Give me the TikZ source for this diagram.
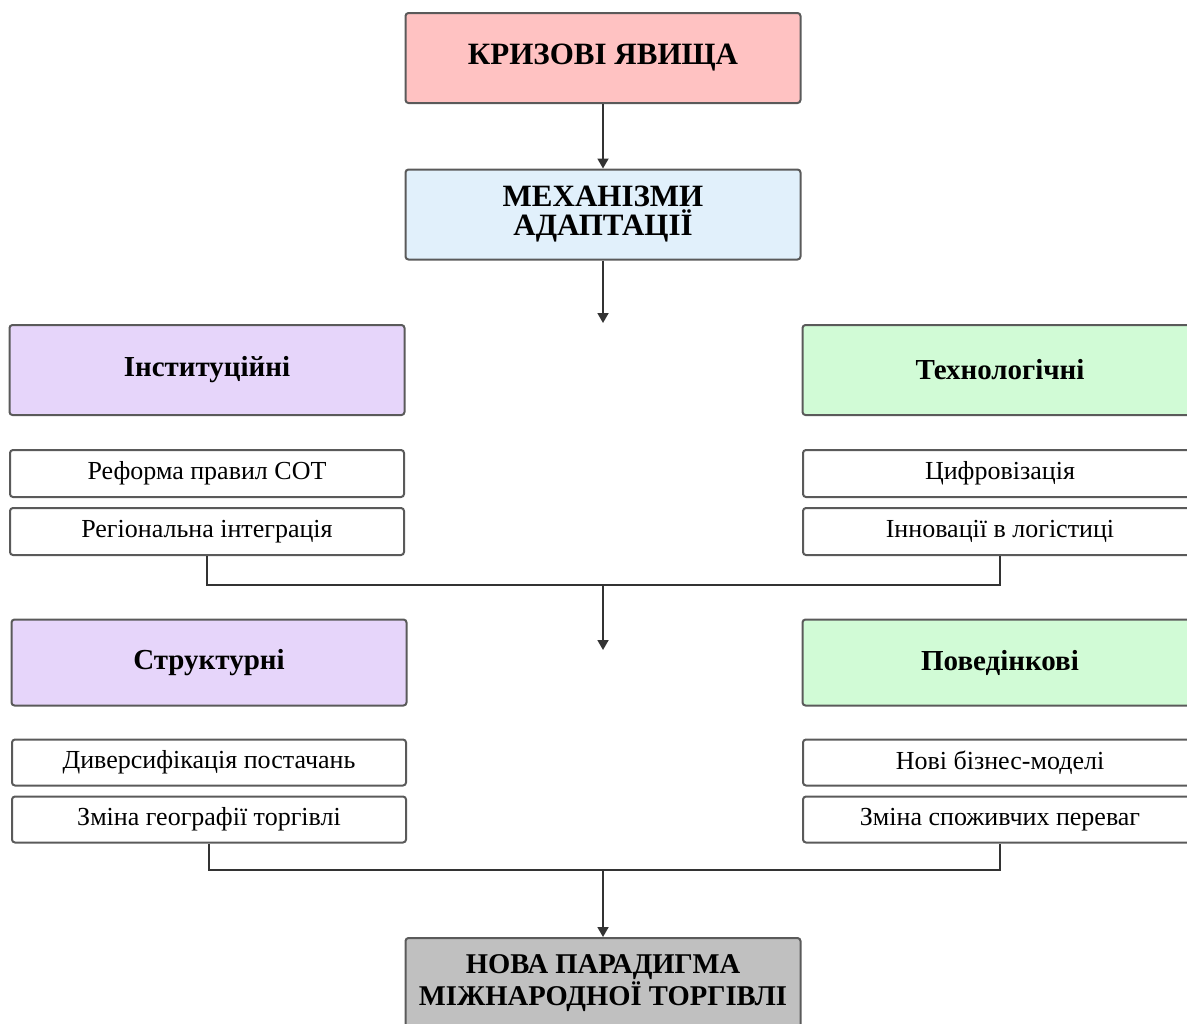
\documentclass[tikz,border=0pt]{standalone}
\usepackage{fontspec}
\setmainfont{Liberation Serif}
\usepackage{tikz}
\usetikzlibrary{arrows.meta,positioning}
\usepackage{xcolor}
\definecolor{crisisred}{HTML}{FFC2C2}
\definecolor{mechblue}{HTML}{E1F0FB}
\definecolor{lilac}{HTML}{E6D5FA}
\definecolor{mint}{HTML}{D1FBD6}
\definecolor{paragray}{HTML}{C0C0C0}
\definecolor{edgegray}{HTML}{5A5A5A}
\definecolor{linegray}{HTML}{333333}

\begin{document}
\begin{tikzpicture}[x=0.5pt,y=-0.5pt]
	\path[use as bounding box] (0,0) rectangle (1187,1023);
	\clip (0,0) rectangle (1187,1023);
	\begin{scope}[every node/.style={rectangle,draw=edgegray,line width=1pt,rounded corners=1.5pt,align=center},
		mainbox/.style={minimum width=197.5pt,minimum height=45pt,inner sep=2pt,font=\fontsize{15.5}{14.5}\selectfont\bfseries},
		groupbox/.style={minimum width=197.5pt,minimum height=45pt,font=\fontsize{14.5}{17}\selectfont\bfseries},
		itembox/.style={minimum width=197pt,minimum height=23.5pt,font=\fontsize{13}{15}\selectfont}]
		\node[mainbox,fill=crisisred] (crisis) at (603,58) {КРИЗОВІ ЯВИЩА};
		\node[mainbox,fill=mechblue] (mech) at (603,214.5) {МЕХАНІЗМИ\\АДАПТАЦІЇ};
		\node[groupbox,fill=lilac] (inst) at (207,370) {Інституційні};
		\node[groupbox,fill=mint] (tech) at (1000,370) {Технологічні};
		\node[itembox,below =16.5pt of inst] (wto) {Реформа правил СОТ};
		\node[itembox,below =4.5pt of wto] (region) {Регіональна інтеграція};
		\node[itembox,below =16.5pt of tech] (digit) {Цифровізація};
		\node[itembox,below =4.5pt of digit] (logist) {Інновації в логістиці};
		\node[groupbox,minimum height=43pt,fill=lilac] (struct) at (209,662.5) {Структурні};
		\node[groupbox,minimum height=43pt,fill=mint] (behav) at (1000,662.5) {Поведінкові};
		\node[itembox,minimum height=23pt,below =16pt of struct] (supply) {Диверсифікація постачань};
		\node[itembox,minimum height=23pt,below =4.5pt of supply] (geo) {Зміна географії торгівлі};
		\node[itembox,minimum height=23pt,below =16pt of behav] (biz) {Нові бізнес-моделі};
		\node[itembox,minimum height=23pt,below =4.5pt of biz] (prefs) {Зміна споживчих переваг};
		\node[mainbox,font=\fontsize{14.3}{14}\selectfont\bfseries,fill=paragray,anchor=north] (paradigm) at (603,937) {НОВА ПАРАДИГМА\\МІЖНАРОДНОЇ ТОРГІВЛІ};
	\end{scope}

	\coordinate (split) at (603,323);
	\coordinate (join1) at (603,585);
	\coordinate (drop1) at (603,650);
	\coordinate (join2) at (603,870);

	\begin{scope}[draw=linegray,line width=0.9pt]
	\draw[-{Triangle[length=5pt,width=5.5pt]}] (crisis) -- (mech);
	\draw[-{Triangle[length=5pt,width=5.5pt]}] (mech) -- (split);
	\draw (region.south) |- (join1) -| (logist.south);
	\draw[-{Triangle[length=5pt,width=5.5pt]}] (join1) -- (drop1);
	\draw (geo.south) |- (join2) -| (prefs.south);
	\draw[-{Triangle[length=5pt,width=5.5pt]}] (join2) -- (paradigm);
	\end{scope}
\end{tikzpicture}
\end{document}
